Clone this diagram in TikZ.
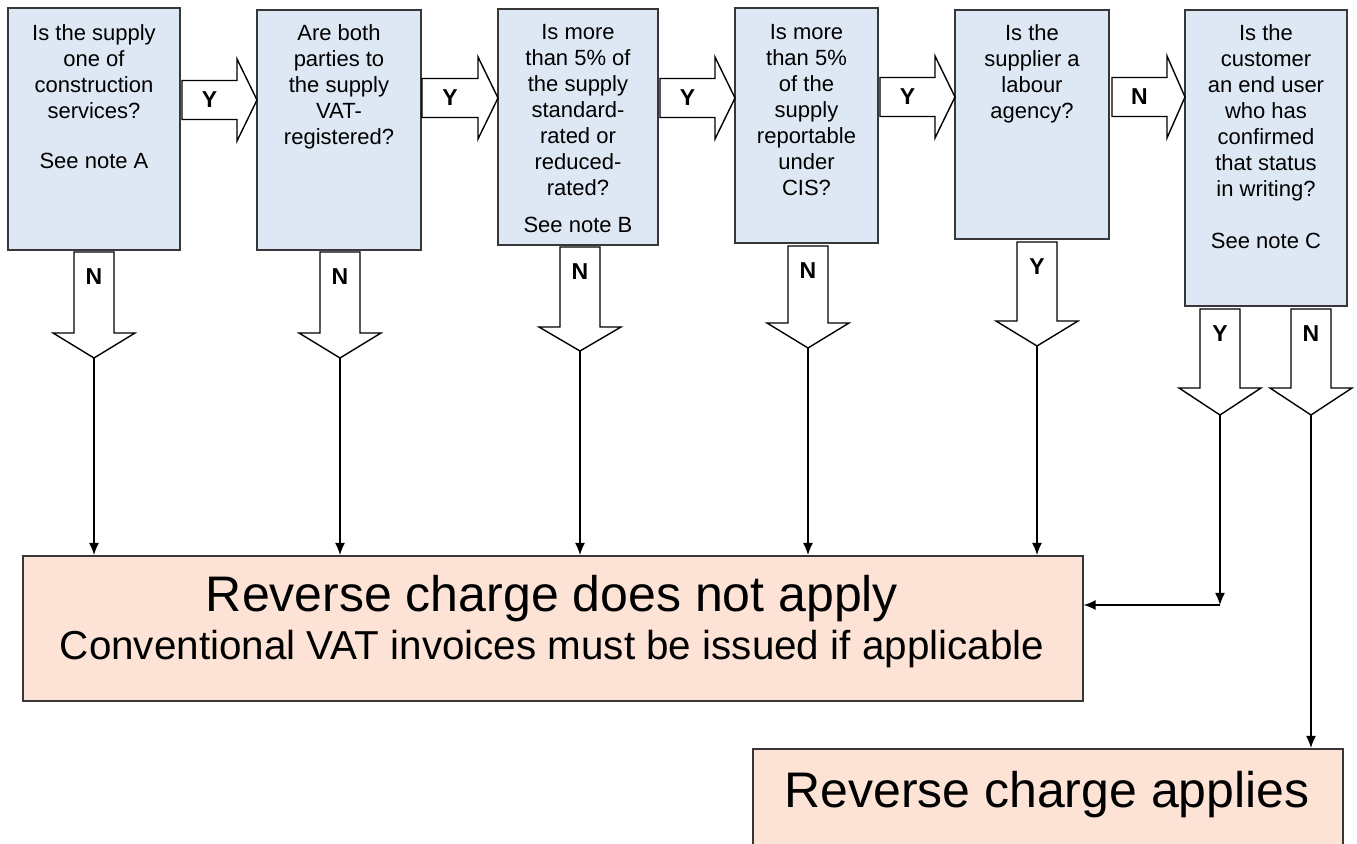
\documentclass[tikz,border=0pt]{standalone}
\usepackage{fontspec}
\setmainfont{Liberation Sans}
\usetikzlibrary{arrows.meta}

\definecolor{qfill}{RGB}{222,232,244}
\definecolor{rfill}{RGB}{252,227,214}
\definecolor{qline}{RGB}{55,55,55}

% block arrow to the right: x1, xh, x2, y, label, name
\newcommand{\rightblk}[6]{%
  \draw[blk] (#1,#4-19.5) -- (#2,#4-19.5) -- (#2,#4-41) -- (#3,#4) -- (#2,#4+41) -- (#2,#4+19.5) -- (#1,#4+19.5) -- cycle;
  \node[lbl] (#6) at ({(#1+#2)/2},#4) {#5};}
% block arrow downwards: x, y1, yh, y2, label, name
\newcommand{\downblk}[6]{%
  \draw[blk] (#1-20,#2) -- (#1+20,#2) -- (#1+20,#3) -- (#1+41,#3) -- (#1,#4) -- (#1-41,#3) -- (#1-20,#3) -- cycle;
  \node[lbl] (#6) at (#1,#2+25) {#5};
  \coordinate (#6tip) at (#1,#4);}

\begin{document}
\begin{tikzpicture}[x=0.5pt,y=-0.5pt,
  qbox/.style={draw=qline,fill=qfill,line width=0.8pt},
  qtext/.style={align=center,anchor=north,inner sep=0pt,font=\fontsize{11}{13}\selectfont},
  rbox/.style={draw=qline,fill=rfill,line width=0.8pt,inner sep=0pt},
  blk/.style={draw=black,fill=white,line width=0.7pt,line join=miter},
  lbl/.style={inner sep=0pt,font=\fontsize{11.5}{13}\selectfont\bfseries},
  con/.style={-{Latex[length=6pt,width=5pt]},line width=0.7pt}]
\useasboundingbox (0,0) rectangle (1357,844);
\clip (0,0) rectangle (1357,844);

% questions
\draw[qbox] (8,8) rectangle (180,250);
\node[qtext] (qA) at (94,24) {Is the supply\\one of\\construction\\services?\\[12pt]See note A};
\draw[qbox] (257,10) rectangle (421,250);
\node[qtext] (qB) at (339,24) {Are both\\parties to\\the supply\\VAT-\\registered?};
\draw[qbox] (498,9) rectangle (658,245);
\node[qtext] (qC) at (578,24) {Is more\\than 5\% of\\the supply\\standard-\\rated or\\reduced-\\rated?\\[5.5pt]See note B};
\draw[qbox] (735,8) rectangle (878,243);
\node[qtext] (qD) at (806.5,24) {Is more\\than 5\%\\of the\\supply\\reportable\\under\\CIS?};
\draw[qbox] (955,10) rectangle (1109,239);
\node[qtext] (qE) at (1032,24) {Is the\\supplier a\\labour\\agency?};
\draw[qbox] (1185,10) rectangle (1347,306);
\node[qtext] (qF) at (1266,24) {Is the\\customer\\an end user\\who has\\confirmed\\that status\\in writing?\\[13pt]See note C};

% yes/no block arrows
\rightblk{182}{237}{257}{100}{Y}{yA}
\rightblk{422}{478}{498}{98}{Y}{yB}
\rightblk{660}{715}{735}{98}{Y}{yC}
\rightblk{880}{935}{955}{97}{Y}{yD}
\rightblk{1112}{1167}{1185}{97}{N}{nE}
\downblk{94}{252}{333}{358}{N}{dA}
\downblk{340}{252}{333}{358}{N}{dB}
\downblk{580}{247}{327}{351}{N}{dC}
\downblk{808}{246}{323}{348}{N}{dD}
\downblk{1037}{242}{321}{346}{Y}{dE}
\downblk{1220}{309}{388}{415}{Y}{dF}
\downblk{1311}{309}{388}{415}{N}{dG}

% outcomes
\node[rbox,minimum width=530pt,minimum height=72.5pt,anchor=north west] (rA) at (22,555) {};
\node[anchor=base,inner sep=0pt,font=\fontsize{25}{30}\selectfont] (rAt) at (552,612) {Reverse charge does not apply};
\node[anchor=base,inner sep=0pt,font=\fontsize{20.2}{24}\selectfont] (rAs) at (552,660) {Conventional VAT invoices must be issued if applicable};
\node[rbox,minimum width=295pt,minimum height=60pt,anchor=north west] (rB) at (752,748) {};
\node[anchor=base,inner sep=0pt,font=\fontsize{25}{30}\selectfont] (rBt) at (1047,808) {Reverse charge applies};

% connectors
\foreach \d in {dA,dB,dC,dD,dE}
  \draw[con] (\d tip) -- (\d tip |- rA.north);
\coordinate (turn) at (1220,605);
\draw[con] (dFtip) -- (turn);
\draw[con] (turn) -- (turn -| rA.east);
\draw[con] (dGtip) -- (dGtip |- rB.north);
\end{tikzpicture}
\end{document}
